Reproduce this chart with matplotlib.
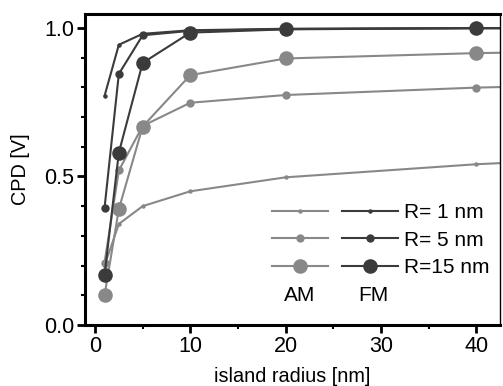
import matplotlib
matplotlib.use("Agg")
import matplotlib.pyplot as plt
from matplotlib.legend_handler import HandlerTuple
from matplotlib.ticker import MultipleLocator

plt.rcParams['font.family'] = ['Liberation Sans', 'DejaVu Sans']

# island radius [nm]
radius = [1, 2.5, 5, 10, 20, 40, 50]

# CPD [V], AM mode
am_r1 = [0.20, 0.34, 0.40, 0.45, 0.497, 0.541, 0.556]
am_r5 = [0.21, 0.52, 0.67, 0.748, 0.774, 0.799, 0.806]
am_r15 = [0.10, 0.39, 0.668, 0.841, 0.897, 0.915, 0.920]

# CPD [V], FM mode
fm_r1 = [0.771, 0.943, 0.980, 0.992, 0.997, 0.999, 0.999]
fm_r5 = [0.394, 0.845, 0.975, 0.990, 0.996, 0.999, 0.999]
fm_r15 = [0.168, 0.58, 0.882, 0.984, 0.995, 0.999, 0.999]

tip_labels = ['R= 1 nm', 'R= 5 nm', 'R=15 nm']

gray = '#888888'
dark = '#3b3b3b'

fig = plt.figure(figsize=(5.03, 3.86), dpi=100)
ax = fig.add_axes([0.169, 0.158, 0.825, 0.806])

sizes = [3.2, 6, 10.5]
am_lines = []
for vals, ms in zip([am_r1, am_r5, am_r15], sizes):
    l, = ax.plot(radius, vals, '-o', color=gray, lw=1.5, ms=ms, mec='none')
    am_lines.append(l)
fm_lines = []
for vals, ms in zip([fm_r1, fm_r5, fm_r15], sizes):
    l, = ax.plot(radius, vals, '-o', color=dark, lw=1.5, ms=ms, mec='none')
    fm_lines.append(l)

ax.set_xlim(-1.05, 42.5)
ax.set_ylim(0, 1.047)
ax.xaxis.set_major_locator(MultipleLocator(10))
ax.xaxis.set_minor_locator(MultipleLocator(5))
ax.yaxis.set_major_locator(MultipleLocator(0.5))
ax.yaxis.set_minor_locator(MultipleLocator(0.1))
ax.tick_params(which='major', direction='out', length=6, width=2, labelsize=15.5, pad=2)
ax.tick_params(which='minor', direction='out', length=3, width=1.5)
ax.tick_params(top=False, right=False)
ax.yaxis.set_major_formatter(plt.FormatStrFormatter('%.1f'))

for side in ['left', 'bottom', 'top']:
    ax.spines[side].set_linewidth(2.2)
ax.spines['right'].set_linewidth(1.0)

ax.set_xlabel('island radius [nm]', fontsize=14.3, labelpad=7)
ax.set_ylabel('CPD [V]', fontsize=14.3, labelpad=10)

handles = [(a, f) for a, f in zip(am_lines, fm_lines)]
ax.legend(handles, tip_labels, handler_map={tuple: HandlerTuple(ndivide=None, pad=0.67)},
          loc='center left', bbox_to_anchor=(0.45, 0.273), frameon=False,
          handlelength=6.05, fontsize=15, labelspacing=0.42, handletextpad=0.3,
          borderaxespad=0, borderpad=0)
ax.text(0.518, 0.096, 'AM', transform=ax.transAxes, fontsize=15, ha='center', va='center')
ax.text(0.694, 0.096, 'FM', transform=ax.transAxes, fontsize=15, ha='center', va='center')

fig.savefig('out.png', dpi=100)
